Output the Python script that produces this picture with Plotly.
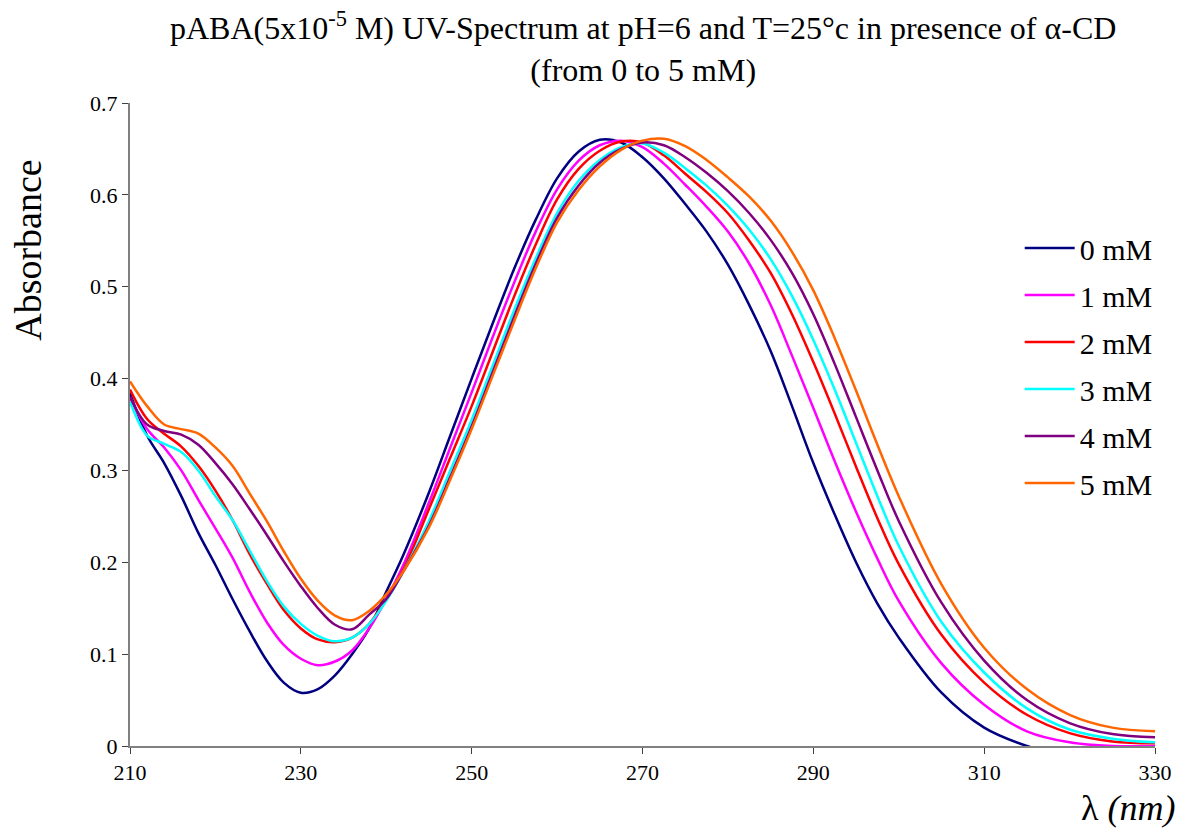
import plotly.graph_objects as go

wavelength = [210, 212, 214, 216, 218, 220, 222, 224, 226, 228, 230, 232, 234, 236, 238,
              240, 242, 245, 247.5, 250, 252.5, 255, 257.5, 260, 262.5, 265, 267.5, 270, 272.5,
              275, 277.5, 280, 282.5, 285, 287.5, 290, 292.5, 295, 297.5, 300,
              305, 310, 315, 320, 325, 330]

abs_0mM = [0.384, 0.338, 0.308, 0.272, 0.232, 0.197, 0.160, 0.125, 0.093, 0.069, 0.058, 0.062, 0.077, 0.100, 0.128,
           0.168, 0.208, 0.276, 0.338, 0.400, 0.461, 0.520, 0.573, 0.618, 0.647, 0.660, 0.657, 0.641, 0.618,
           0.590, 0.560, 0.524, 0.480, 0.430, 0.370, 0.308, 0.252, 0.200, 0.155, 0.118,
           0.058, 0.020, 0.000, -0.012, -0.020, -0.020]
abs_1mM = [0.380, 0.345, 0.325, 0.300, 0.268, 0.237, 0.205, 0.168, 0.135, 0.110, 0.095, 0.088, 0.092, 0.104, 0.128,
           0.160, 0.197, 0.265, 0.325, 0.385, 0.446, 0.505, 0.560, 0.606, 0.637, 0.654, 0.659, 0.652, 0.634,
           0.611, 0.587, 0.560, 0.525, 0.480, 0.425, 0.368, 0.310, 0.255, 0.204, 0.158,
           0.090, 0.045, 0.016, 0.004, 0.000, 0.000]
abs_2mM = [0.388, 0.356, 0.340, 0.326, 0.305, 0.278, 0.246, 0.209, 0.177, 0.148, 0.128, 0.116, 0.113, 0.118, 0.133,
           0.160, 0.192, 0.258, 0.314, 0.370, 0.430, 0.490, 0.546, 0.595, 0.628, 0.648, 0.658, 0.657, 0.643,
           0.623, 0.603, 0.580, 0.550, 0.515, 0.470, 0.418, 0.362, 0.304, 0.248, 0.198,
           0.121, 0.069, 0.034, 0.014, 0.005, 0.003]
abs_3mM = [0.375, 0.338, 0.329, 0.320, 0.300, 0.272, 0.246, 0.213, 0.180, 0.152, 0.133, 0.120, 0.114, 0.118, 0.133,
           0.158, 0.190, 0.245, 0.300, 0.355, 0.415, 0.475, 0.531, 0.580, 0.615, 0.638, 0.652, 0.656, 0.646,
           0.629, 0.610, 0.588, 0.562, 0.530, 0.490, 0.442, 0.388, 0.330, 0.272, 0.218,
           0.135, 0.080, 0.041, 0.018, 0.008, 0.004]
abs_4mM = [0.380, 0.350, 0.343, 0.339, 0.328, 0.308, 0.285, 0.258, 0.230, 0.201, 0.174, 0.150, 0.132, 0.127, 0.143,
           0.160, 0.190, 0.240, 0.293, 0.348, 0.408, 0.468, 0.525, 0.575, 0.610, 0.635, 0.650, 0.657, 0.654,
           0.641, 0.624, 0.604, 0.580, 0.551, 0.515, 0.470, 0.416, 0.358, 0.300, 0.245,
           0.156, 0.093, 0.050, 0.025, 0.013, 0.0095]
abs_5mM = [0.397, 0.370, 0.350, 0.345, 0.340, 0.325, 0.305, 0.275, 0.245, 0.212, 0.182, 0.158, 0.142, 0.137, 0.147,
           0.165, 0.190, 0.238, 0.290, 0.345, 0.404, 0.463, 0.520, 0.570, 0.605, 0.631, 0.649, 0.659, 0.661,
           0.653, 0.638, 0.619, 0.598, 0.572, 0.538, 0.496, 0.444, 0.387, 0.328, 0.272,
           0.176, 0.107, 0.062, 0.034, 0.020, 0.016]

series_names = ["0 mM", "1 mM", "2 mM", "3 mM", "4 mM", "5 mM"]
series_values = [abs_0mM, abs_1mM, abs_2mM, abs_3mM, abs_4mM, abs_5mM]
series_colors = ["#000080", "#FF00FF", "#FF0000", "#00FFFF", "#800080", "#FF6600"]

x_ticks = [210, 230, 250, 270, 290, 310, 330]
y_ticks = [0, 0.1, 0.2, 0.3, 0.4, 0.5, 0.6, 0.7]
y_tick_labels = ["0", "0.1", "0.2", "0.3", "0.4", "0.5", "0.6", "0.7"]

title_text = "pABA(5x10<sup>-5</sup> M) UV-Spectrum at pH=6 and T=25°c in presence of α-CD<br>(from 0 to 5 mM)"
y_title = "Absorbance"
x_title = "λ <i>(nm)</i>"

FONT = "'Liberation Serif', 'Times New Roman', 'DejaVu Serif', serif"

fig = go.Figure()
for name, vals, col in zip(series_names, series_values, series_colors):
    fig.add_trace(go.Scatter(
        x=wavelength, y=vals, name=name, mode="lines", legendgroup=name,
        line=dict(color=col, width=2.5, shape="spline", smoothing=1.0),
    ))

fig.update_layout(
    width=1175, height=822,
    paper_bgcolor="white", plot_bgcolor="white",
    margin=dict(l=122, r=28, t=95, b=84, autoexpand=False),
    font=dict(family=FONT, color="black"),
    showlegend=True,
    legend=dict(
        x=0.868, y=0.815, xanchor="left", yanchor="top",
        bgcolor="rgba(0,0,0,0)", font=dict(family=FONT, size=30, color="black"),
        tracegroupgap=5, itemwidth=50,
    ),
    xaxis=dict(
        range=[210, 330], tickvals=x_ticks, showgrid=False, zeroline=False,
        showline=True, linecolor="#808080", linewidth=2,
        ticks="outside", ticklen=6, tickcolor="#404040", tickwidth=1,
        tickfont=dict(family=FONT, size=22, color="black"),
    ),
    yaxis=dict(
        range=[0, 0.7], tickvals=y_ticks, ticktext=y_tick_labels, showgrid=False, zeroline=False,
        showline=True, linecolor="#808080", linewidth=2,
        ticks="outside", ticklen=6, tickcolor="#404040", tickwidth=1,
        tickfont=dict(family=FONT, size=22, color="black"),
    ),
)

fig.add_annotation(
    text=title_text, xref="paper", yref="paper", x=0.5, y=1.087,
    xanchor="center", yanchor="middle", showarrow=False,
    font=dict(family=FONT, size=32, color="black"),
)
fig.add_annotation(
    text=y_title, xref="paper", yref="paper", x=-0.099, y=0.771,
    xanchor="center", yanchor="middle", showarrow=False, textangle=-90,
    font=dict(family=FONT, size=38, color="black"),
)
fig.add_annotation(
    text=x_title, xref="paper", yref="paper", x=1.021, y=-0.097,
    xanchor="right", yanchor="middle", showarrow=False,
    font=dict(family=FONT, size=36, color="black"),
)

fig.write_html("out.html")
